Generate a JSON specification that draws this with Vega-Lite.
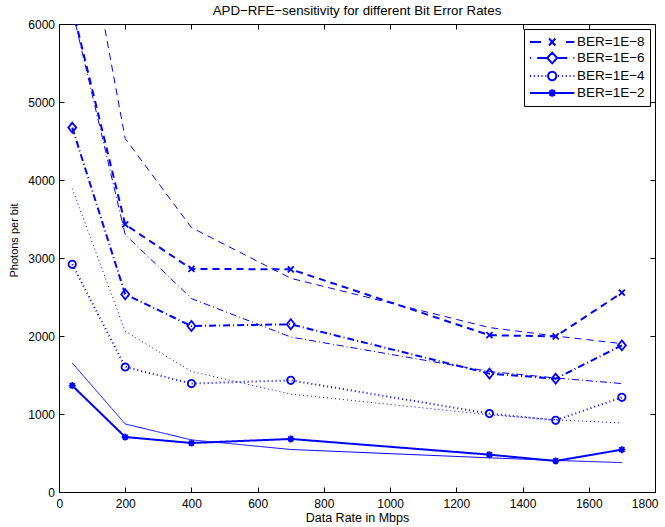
{
  "$schema": "https://vega.github.io/schema/vega-lite/v6.json",
  "width": 596,
  "height": 468,
  "autosize": {"type": "none"},
  "padding": {"left": 59, "top": 24, "right": 10, "bottom": 35},
  "background": "white",
  "title": {"text": "APD−RFE−sensitivity for different Bit Error Rates", "fontSize": 13.3, "font": "Liberation Sans", "fontWeight": "normal", "offset": 1, "anchor": "middle", "color": "black"},
  "config": {
    "view": {"stroke": "black", "strokeWidth": 1},
    "font": "Liberation Sans",
    "axis": {
      "domainColor": "black", "tickColor": "black", "labelColor": "black", "titleColor": "black",
      "labelFont": "Liberation Sans", "titleFont": "Liberation Sans", "titleFontWeight": "normal",
      "labelFontSize": 12, "titleFontSize": 12.5,
      "gridColor": "#444", "gridDash": [1, 3], "gridOpacity": 1, "gridWidth": 1,
      "tickSize": -5, "tickWidth": 1, "format": "d"
    }
  },
  "datasets": {
    "measured": [
      {"x": 40, "y": 6210, "series": "BER=1E−8"},
      {"x": 200, "y": 3430, "series": "BER=1E−8"},
      {"x": 400, "y": 2860, "series": "BER=1E−8"},
      {"x": 700, "y": 2855, "series": "BER=1E−8"},
      {"x": 1300, "y": 2010, "series": "BER=1E−8"},
      {"x": 1500, "y": 1995, "series": "BER=1E−8"},
      {"x": 1700, "y": 2555, "series": "BER=1E−8"},
      {"x": 40, "y": 4672, "series": "BER=1E−6"},
      {"x": 200, "y": 2535, "series": "BER=1E−6"},
      {"x": 400, "y": 2128, "series": "BER=1E−6"},
      {"x": 700, "y": 2150, "series": "BER=1E−6"},
      {"x": 1300, "y": 1518, "series": "BER=1E−6"},
      {"x": 1500, "y": 1453, "series": "BER=1E−6"},
      {"x": 1700, "y": 1880, "series": "BER=1E−6"},
      {"x": 40, "y": 2919, "series": "BER=1E−4"},
      {"x": 200, "y": 1603, "series": "BER=1E−4"},
      {"x": 400, "y": 1390, "series": "BER=1E−4"},
      {"x": 700, "y": 1432, "series": "BER=1E−4"},
      {"x": 1300, "y": 1005, "series": "BER=1E−4"},
      {"x": 1500, "y": 919, "series": "BER=1E−4"},
      {"x": 1700, "y": 1214, "series": "BER=1E−4"},
      {"x": 40, "y": 1364, "series": "BER=1E−2"},
      {"x": 200, "y": 705, "series": "BER=1E−2"},
      {"x": 400, "y": 628, "series": "BER=1E−2"},
      {"x": 700, "y": 680, "series": "BER=1E−2"},
      {"x": 1300, "y": 479, "series": "BER=1E−2"},
      {"x": 1500, "y": 398, "series": "BER=1E−2"},
      {"x": 1700, "y": 543, "series": "BER=1E−2"}
    ],
    "theory": [
      {"x": 40, "y": 8200, "series": "BER=1E−8"},
      {"x": 200, "y": 4530, "series": "BER=1E−8"},
      {"x": 400, "y": 3390, "series": "BER=1E−8"},
      {"x": 700, "y": 2740, "series": "BER=1E−8"},
      {"x": 1300, "y": 2108, "series": "BER=1E−8"},
      {"x": 1500, "y": 2000, "series": "BER=1E−8"},
      {"x": 1700, "y": 1902, "series": "BER=1E−8"},
      {"x": 40, "y": 6180, "series": "BER=1E−6"},
      {"x": 200, "y": 3300, "series": "BER=1E−6"},
      {"x": 400, "y": 2480, "series": "BER=1E−6"},
      {"x": 700, "y": 1987, "series": "BER=1E−6"},
      {"x": 1300, "y": 1545, "series": "BER=1E−6"},
      {"x": 1500, "y": 1462, "series": "BER=1E−6"},
      {"x": 1700, "y": 1390, "series": "BER=1E−6"},
      {"x": 40, "y": 3890, "series": "BER=1E−4"},
      {"x": 200, "y": 2060, "series": "BER=1E−4"},
      {"x": 400, "y": 1545, "series": "BER=1E−4"},
      {"x": 700, "y": 1255, "series": "BER=1E−4"},
      {"x": 1300, "y": 990, "series": "BER=1E−4"},
      {"x": 1500, "y": 925, "series": "BER=1E−4"},
      {"x": 1700, "y": 885, "series": "BER=1E−4"},
      {"x": 40, "y": 1654, "series": "BER=1E−2"},
      {"x": 200, "y": 872, "series": "BER=1E−2"},
      {"x": 400, "y": 668, "series": "BER=1E−2"},
      {"x": 700, "y": 545, "series": "BER=1E−2"},
      {"x": 1300, "y": 438, "series": "BER=1E−2"},
      {"x": 1500, "y": 405, "series": "BER=1E−2"},
      {"x": 1700, "y": 377, "series": "BER=1E−2"}
    ]
  },
  "layer": [
    {
      "data": {"name": "theory"},
      "mark": {"type": "line", "strokeWidth": 1, "color": "#0000ff", "clip": true},
      "encoding": {
        "x": {"field": "x", "type": "quantitative", "scale": {"domain": [0, 1800], "nice": false},
              "axis": {"orient": "top", "labels": false, "title": null, "grid": false, "domain": false, "values": [0, 200, 400, 600, 800, 1000, 1200, 1400, 1600, 1800]}},
        "y": {"field": "y", "type": "quantitative", "scale": {"domain": [0, 6000], "nice": false},
              "axis": {"orient": "right", "labels": false, "title": null, "grid": false, "domain": false, "values": [0, 1000, 2000, 3000, 4000, 5000, 6000]}},
        "strokeDash": {"field": "series", "type": "nominal",
              "scale": {"domain": ["BER=1E−8", "BER=1E−6", "BER=1E−4", "BER=1E−2"], "range": [[7, 5], [7, 3, 1, 3], [1, 3], [1, 0]]},
              "legend": null}
      }
    },
    {
      "data": {"name": "measured"},
      "mark": {"type": "line", "strokeWidth": 2, "color": "#0000ff", "clip": true},
      "encoding": {
        "x": {"field": "x", "type": "quantitative", "scale": {"domain": [0, 1800], "nice": false},
              "axis": {"orient": "bottom", "title": "Data Rate in Mbps", "titleY": 19.5, "labelPadding": 11.5, "values": [0, 200, 400, 600, 800, 1000, 1200, 1400, 1600, 1800], "labelFlush": true, "labelFlushOffset": 3}},
        "y": {"field": "y", "type": "quantitative", "scale": {"domain": [0, 6000], "nice": false},
              "axis": {"orient": "left", "title": "Photons per bit", "titleFontSize": 11, "titleX": -39.4, "titleY": 216, "titleAngle": -90, "titleAlign": "center", "titleBaseline": "bottom", "labelPadding": 9.5, "values": [0, 1000, 2000, 3000, 4000, 5000, 6000], "labelFlush": false}},
        "strokeDash": {"field": "series", "type": "nominal", "legend": null}
      }
    },
    {
      "data": {"name": "measured"},
      "mark": {"type": "point", "filled": false, "strokeWidth": 1.8, "color": "#0000ff", "size": 64, "opacity": 1, "clip": true},
      "encoding": {
        "x": {"field": "x", "type": "quantitative", "axis": null},
        "y": {"field": "y", "type": "quantitative", "axis": null},
        "shape": {"field": "series", "type": "nominal",
          "scale": {"domain": ["BER=1E−8", "BER=1E−6", "BER=1E−4", "BER=1E−2"],
                    "range": ["M-0.75,-0.75L0.75,0.75M-0.75,0.75L0.75,-0.75",
                              "M-1,0L0,-1.25L1,0L0,1.25Z",
                              "M0.92,0A0.92,0.92,0,1,1,-0.92,0A0.92,0.92,0,1,1,0.92,0Z",
                              "M-0.875,0H0.875M0,-0.875V0.875M-0.62,-0.62L0.62,0.62M-0.62,0.62L0.62,-0.62"]},
          "legend": null}
      }
    },
    {
      "data": {"name": "measured"},
      "transform": [{"filter": "datum.y > 100000"}],
      "mark": {"type": "point", "filled": false, "strokeWidth": 2, "color": "#0000ff", "size": 196},
      "encoding": {
        "x": {"field": "x", "type": "quantitative", "axis": null},
        "y": {"field": "y", "type": "quantitative", "axis": null},
        "shape": {"field": "series", "type": "nominal",
          "scale": {"domain": ["BER=1E−8", "BER=1E−6", "BER=1E−4", "BER=1E−2"],
                    "range": ["M-1,0H0.57M4.14,0H5.34M1.72,-0.5L2.62,0.5M1.72,0.5L2.62,-0.5",
                              "M-1,0H-0.86M0.03,0H1.46M1.46,0L2.17,-0.76L2.89,0L2.17,0.76ZM2.89,0H4.32M5.2,0H5.34",
                              "M-1,0H-0.86M-0.45,0H-0.31M0.1,0H0.24M0.65,0H0.79M1.2,0H1.34M2.76,0A0.59,0.59,0,1,1,1.58,0A0.59,0.59,0,1,1,2.76,0ZM3,0H3.14M3.55,0H3.69M4.1,0H4.24M4.65,0H4.79M5.2,0H5.34",
                              "M-1,0H5.34M1.62,0H2.72M2.17,-0.55V0.55M1.78,-0.39L2.56,0.39M1.78,0.39L2.56,-0.39"]},
          "legend": {"title": null, "orient": "top-right", "offset": 5, "symbolSize": 196, "symbolStrokeWidth": 2,
                     "symbolStrokeColor": "#0000ff", "symbolFillColor": "transparent", "symbolOpacity": 1,
                     "labelOffset": 32, "labelFontSize": 13.5, "labelFont": "Liberation Sans", "labelColor": "black",
                     "strokeColor": "black", "fillColor": "white", "padding": 5, "rowPadding": -3.8, "cornerRadius": 0}}
      }
    }
  ],
  "resolve": {"axis": {"x": "independent", "y": "independent"}, "scale": {"shape": "independent"}, "legend": {"shape": "independent"}}
}
